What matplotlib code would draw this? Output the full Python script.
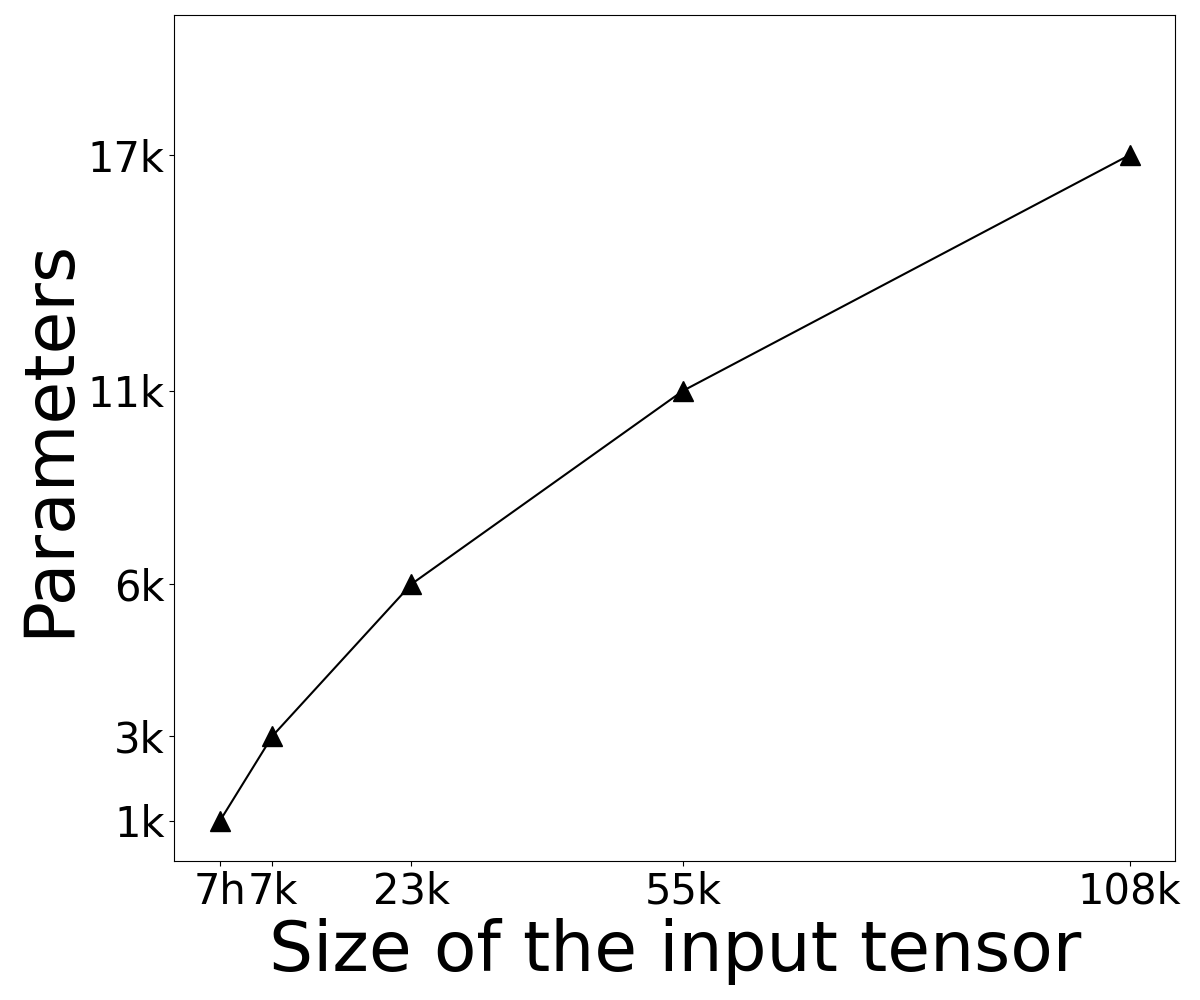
import matplotlib
matplotlib.use('Agg')
import matplotlib.pyplot as plt

# 输入张量大小与参数量
input_sizes = [700, 6900, 23300, 55300, 108000]
x_labels = ['7h', '7k', '23k', '55k', '108k']
params = [965, 3015, 6680, 11340, 17030]
y_labels = ['1k', '3k', '6k', '11k', '17k']

fig = plt.figure(figsize=(12, 10), dpi=100)
ax = fig.add_axes([0.1453, 0.139, 0.834, 0.8457])

ax.plot(input_sizes, params, color='black', linewidth=1.5,
        marker='^', markersize=15)

ax.set_ylim(0, 20400)
ax.set_xticks(input_sizes)
ax.set_xticklabels(x_labels)
ax.set_yticks(params)
ax.set_yticklabels(y_labels)
ax.tick_params(axis='both', labelsize=30)

ax.set_xlabel('Size of the input tensor', fontsize=50)
ax.set_ylabel('Parameters', fontsize=50)

fig.savefig('out.png', dpi=100)
